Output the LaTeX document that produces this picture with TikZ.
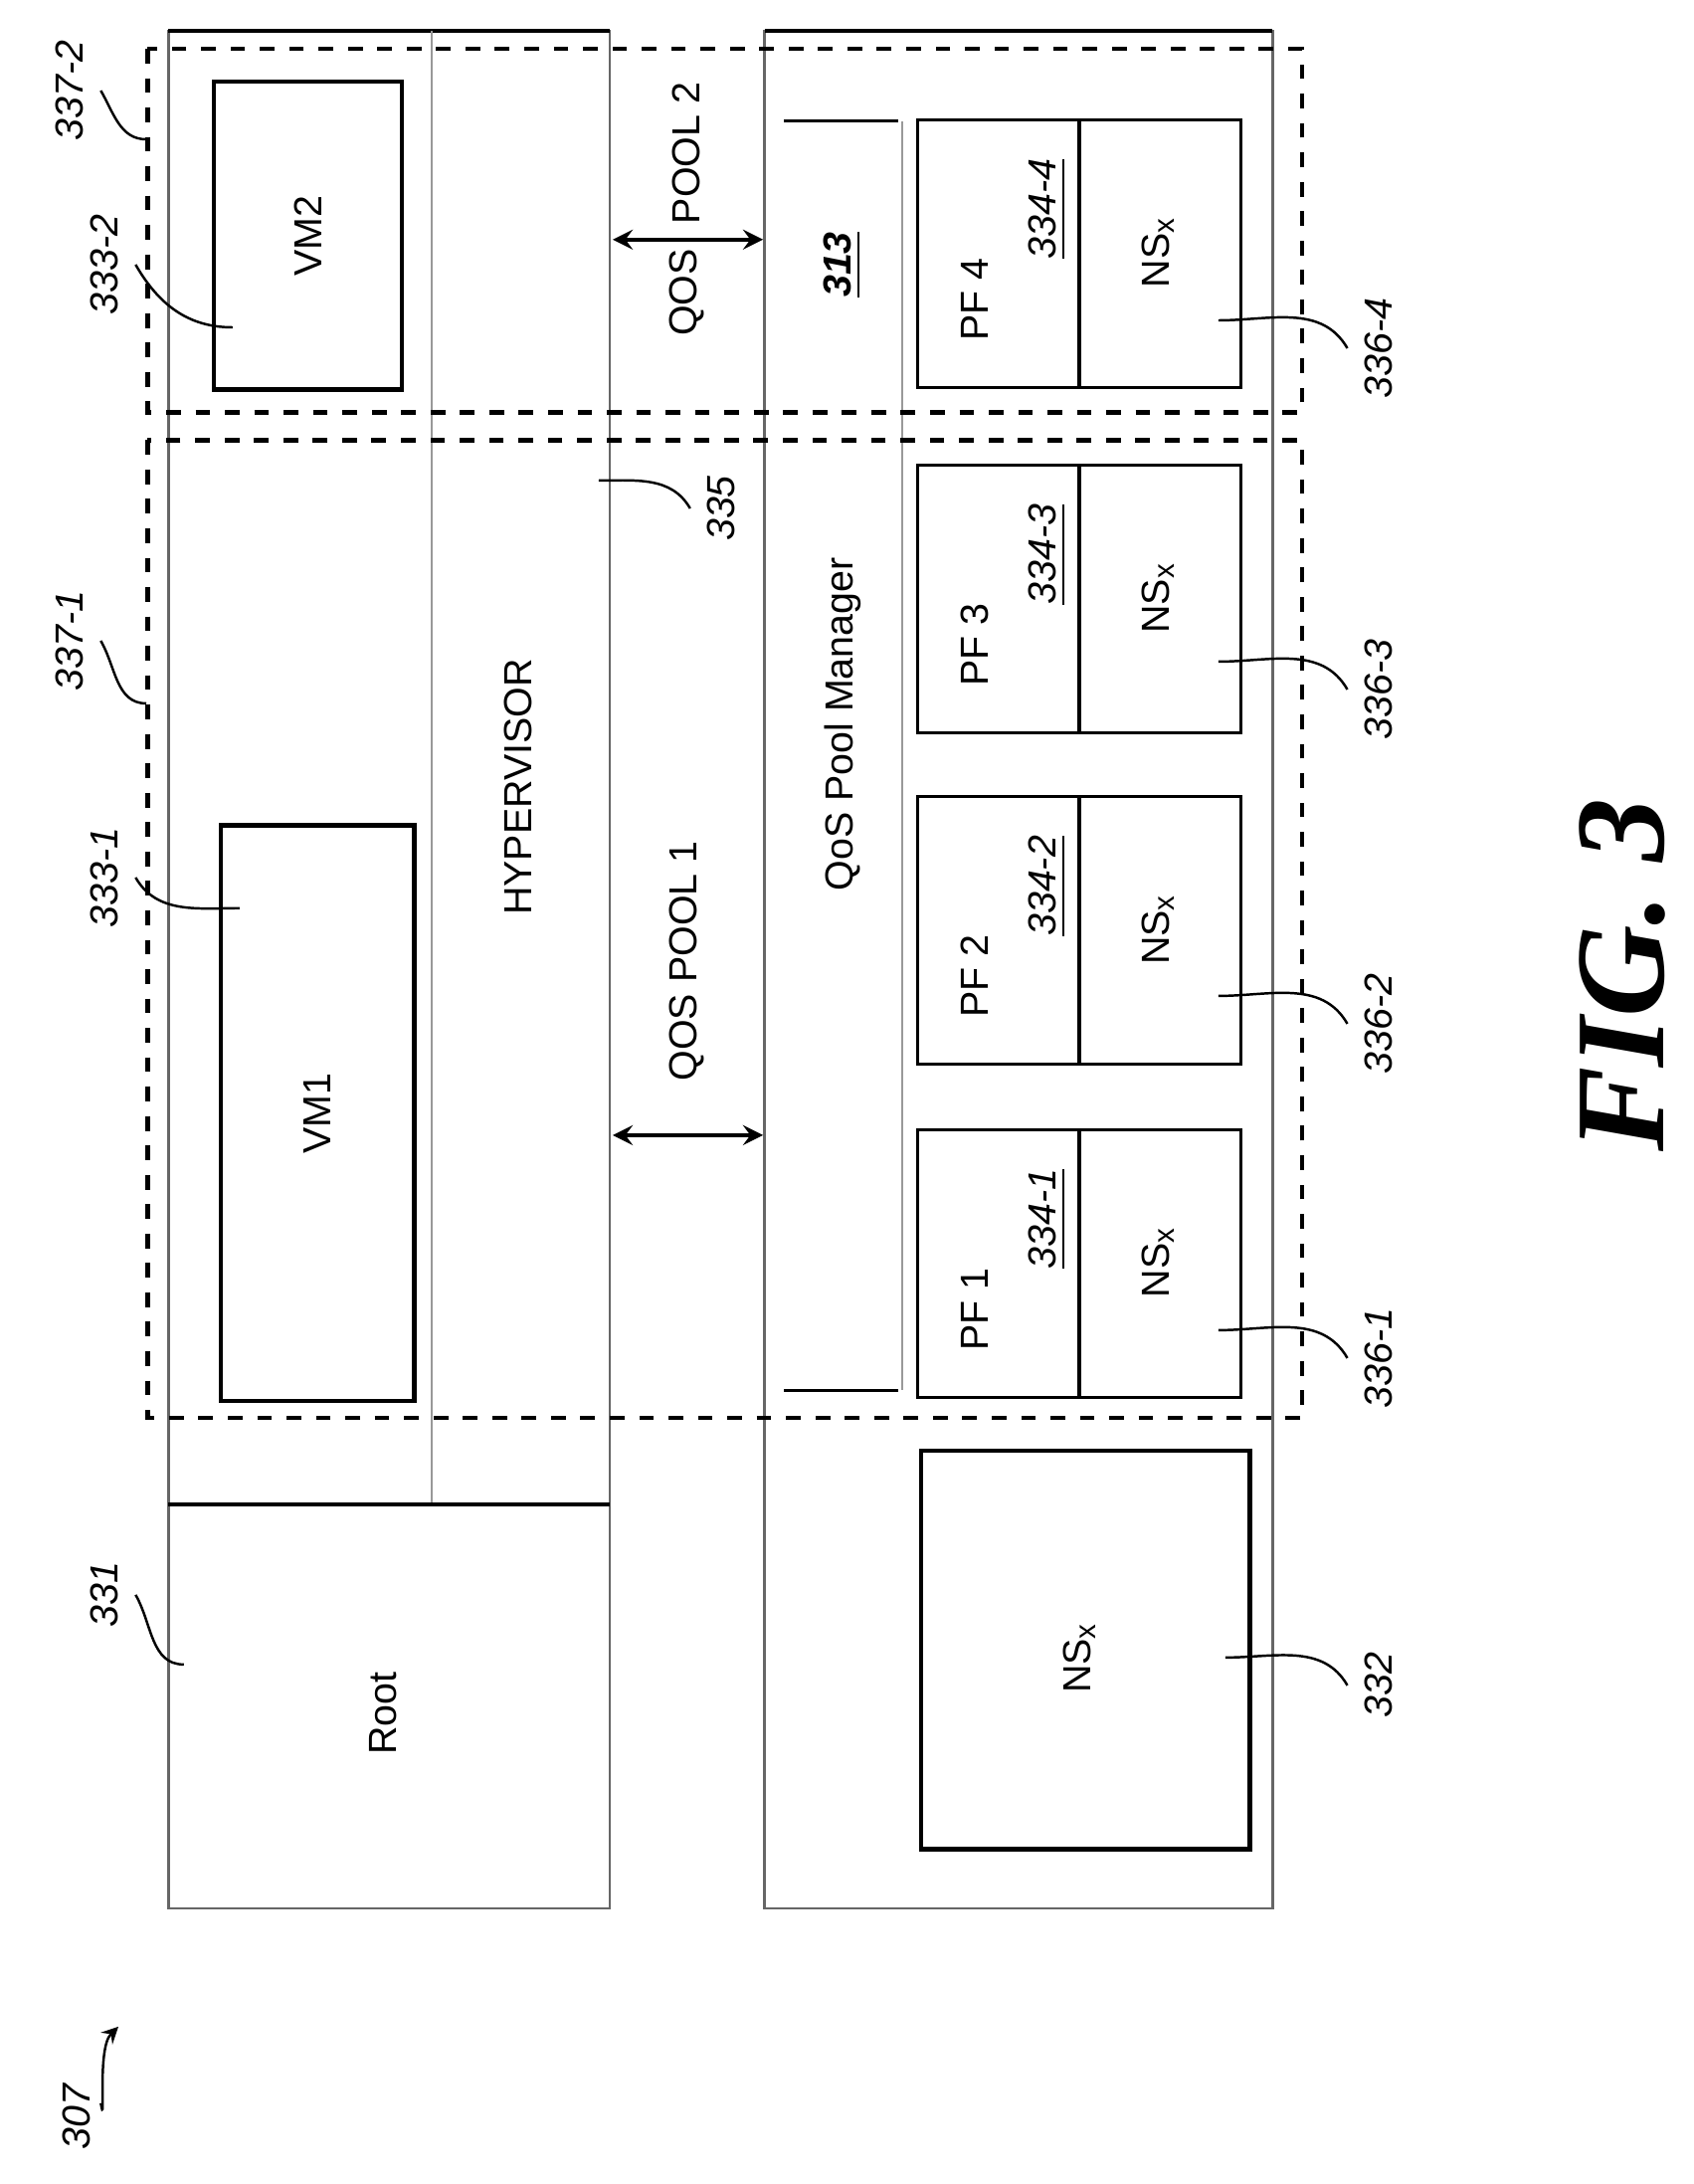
\documentclass[tikz,border=0pt]{standalone}
\usepackage{fontspec}
\setmainfont{Liberation Sans}
\newfontfamily\figfont{Liberation Serif}
\usetikzlibrary{arrows, positioning, calc}
\tikzset{
  box/.style={draw=black, line width=0.9pt},
  frame/.style={draw=black!60, line width=0.5pt},
  pool/.style={draw=black, dashed, line width=0.9pt},
  txt/.style={rotate=90, font=\fontsize{8}{9}\selectfont},
  ref/.style={rotate=90, font=\fontsize{8}{9}\selectfont\itshape},
  lead/.style={line width=0.5pt},
  arrow/.style={line width=0.8pt, <->, >=stealth},
}
\begin{document}
\begin{tikzpicture}[x=0.01cm, y=-0.01cm]
\useasboundingbox (0,0) rectangle (1216,1568);

% host side
\draw [frame] (121,22) rectangle (438,1370);
\draw [box] (121,22) -- (438,22);
\draw [draw=black!40, line width=0.4pt] (310,22) -- (310,1080);
\draw [box] (121,1080) -- (438,1080);
\node (vm2) [box, minimum width=1.35cm, minimum height=2.21cm, anchor=north west] at (152,57) {};
\node (vm1) [box, minimum width=1.39cm, minimum height=4.13cm, anchor=north west] at (157,591) {};
\node [txt] at (vm2.center) {VM2};
\node [txt] at (vm1.center) {VM1};
\node (hyp) [txt] at (372,565) {HYPERVISOR};
\node (root) [txt] at (275,1230) {Root};

% device side
\draw [frame] (549,22) rectangle (914,1370);
\draw [box] (549,22) -- (914,22);
\draw [line width=0.6pt] (563,87) -- (645,87);
\draw [line width=0.6pt] (563,998) -- (645,998);
\draw [draw=black!40, line width=0.4pt] (648,87) -- (648,998);
\node (mgr) [txt] at (605,520) {QoS Pool Manager};
\node (n313) [txt] at (605,190) {\textbf{\textit{\underline{313}}}};

\foreach \i/\y in {4/85, 3/333, 2/571, 1/810} {
  \node (pf\i) [draw=black, line width=0.6pt, minimum width=2.32cm, minimum height=1.92cm, anchor=north west] at (658,\y) {};
  \draw [box] (775,\y) -- (775,\y+192);
  \node [txt] at (700,\y+130) {PF \i};
  \node [ref] at (752,\y+65) {\underline{334-\i}};
  \node [txt] at (832,\y+96) {NS\textsubscript{x}};
}
\node (ns) [box, minimum width=2.36cm, minimum height=2.86cm, anchor=north west] at (660,1040) {};
\node [txt] at (775,1190) {NS\textsubscript{x}};

% qos pools
\draw [pool] (106,35) rectangle (935,296);
\draw [pool] (106,316) rectangle (935,1018);
\node (pool1) [txt] at (493,690) {QOS POOL 1};
\node (qos2) [txt] at (493,210) {QOS};
\node (pool2) [txt] at (493,110) {POOL 2};
\coordinate (a2l) at (440,172); \coordinate (a2r) at (548,172);
\coordinate (a1l) at (440,815); \coordinate (a1r) at (548,815);
\draw [arrow] (a2l) -- (a2r);
\draw [arrow] (a1l) -- (a1r);

% reference labels
\node (l3372) [ref] at (50,65) {337-2};
\node (l3332) [ref] at (75,190) {333-2};
\node (l3371) [ref] at (50,460) {337-1};
\node (l3331) [ref] at (75,630) {333-1};
\node (l331) [ref] at (75,1145) {331};
\node (l335) [ref] at (518,365) {335};
\node (l3364) [ref] at (990,250) {336-4};
\node (l3363) [ref] at (990,495) {336-3};
\node (l3362) [ref] at (990,735) {336-2};
\node (l3361) [ref] at (990,975) {336-1};
\node (l332) [ref] at (990,1210) {332};
\node (l307) [ref] at (55,1520) {307};
\draw [lead] (l3372.south) to[out=-60, in=180] (105,100);
\draw [lead] (l3332.south) to[out=-60, in=180] (167,235);
\draw [lead] (l3371.south) to[out=-60, in=180] (105,505);
\draw [lead] (l3331.south) to[out=-60, in=180] (172,652);
\draw [lead] (l331.south) to[out=-60, in=180] (132,1195);
\draw [lead] (l335.north) to[out=120, in=0] (430,345);
\foreach \n/\y in {4/250, 3/495, 2/735, 1/975} {
  \draw [lead] (l336\n.north) to[out=120, in=0] (875,\y-20);
}
\draw [lead] (l332.north) to[out=120, in=0] (880,1190);
\coordinate (t307) at (85,1455);
\draw [lead, ->, >=stealth] ($(l307.south)+(-5,-10)$) to[out=-80, in=-135] (t307);

\node (fig) [rotate=90, font=\figfont\fontsize{26}{28}\selectfont\bfseries\itshape] at (1165,700) {FIG. 3};
\end{tikzpicture}
\end{document}
